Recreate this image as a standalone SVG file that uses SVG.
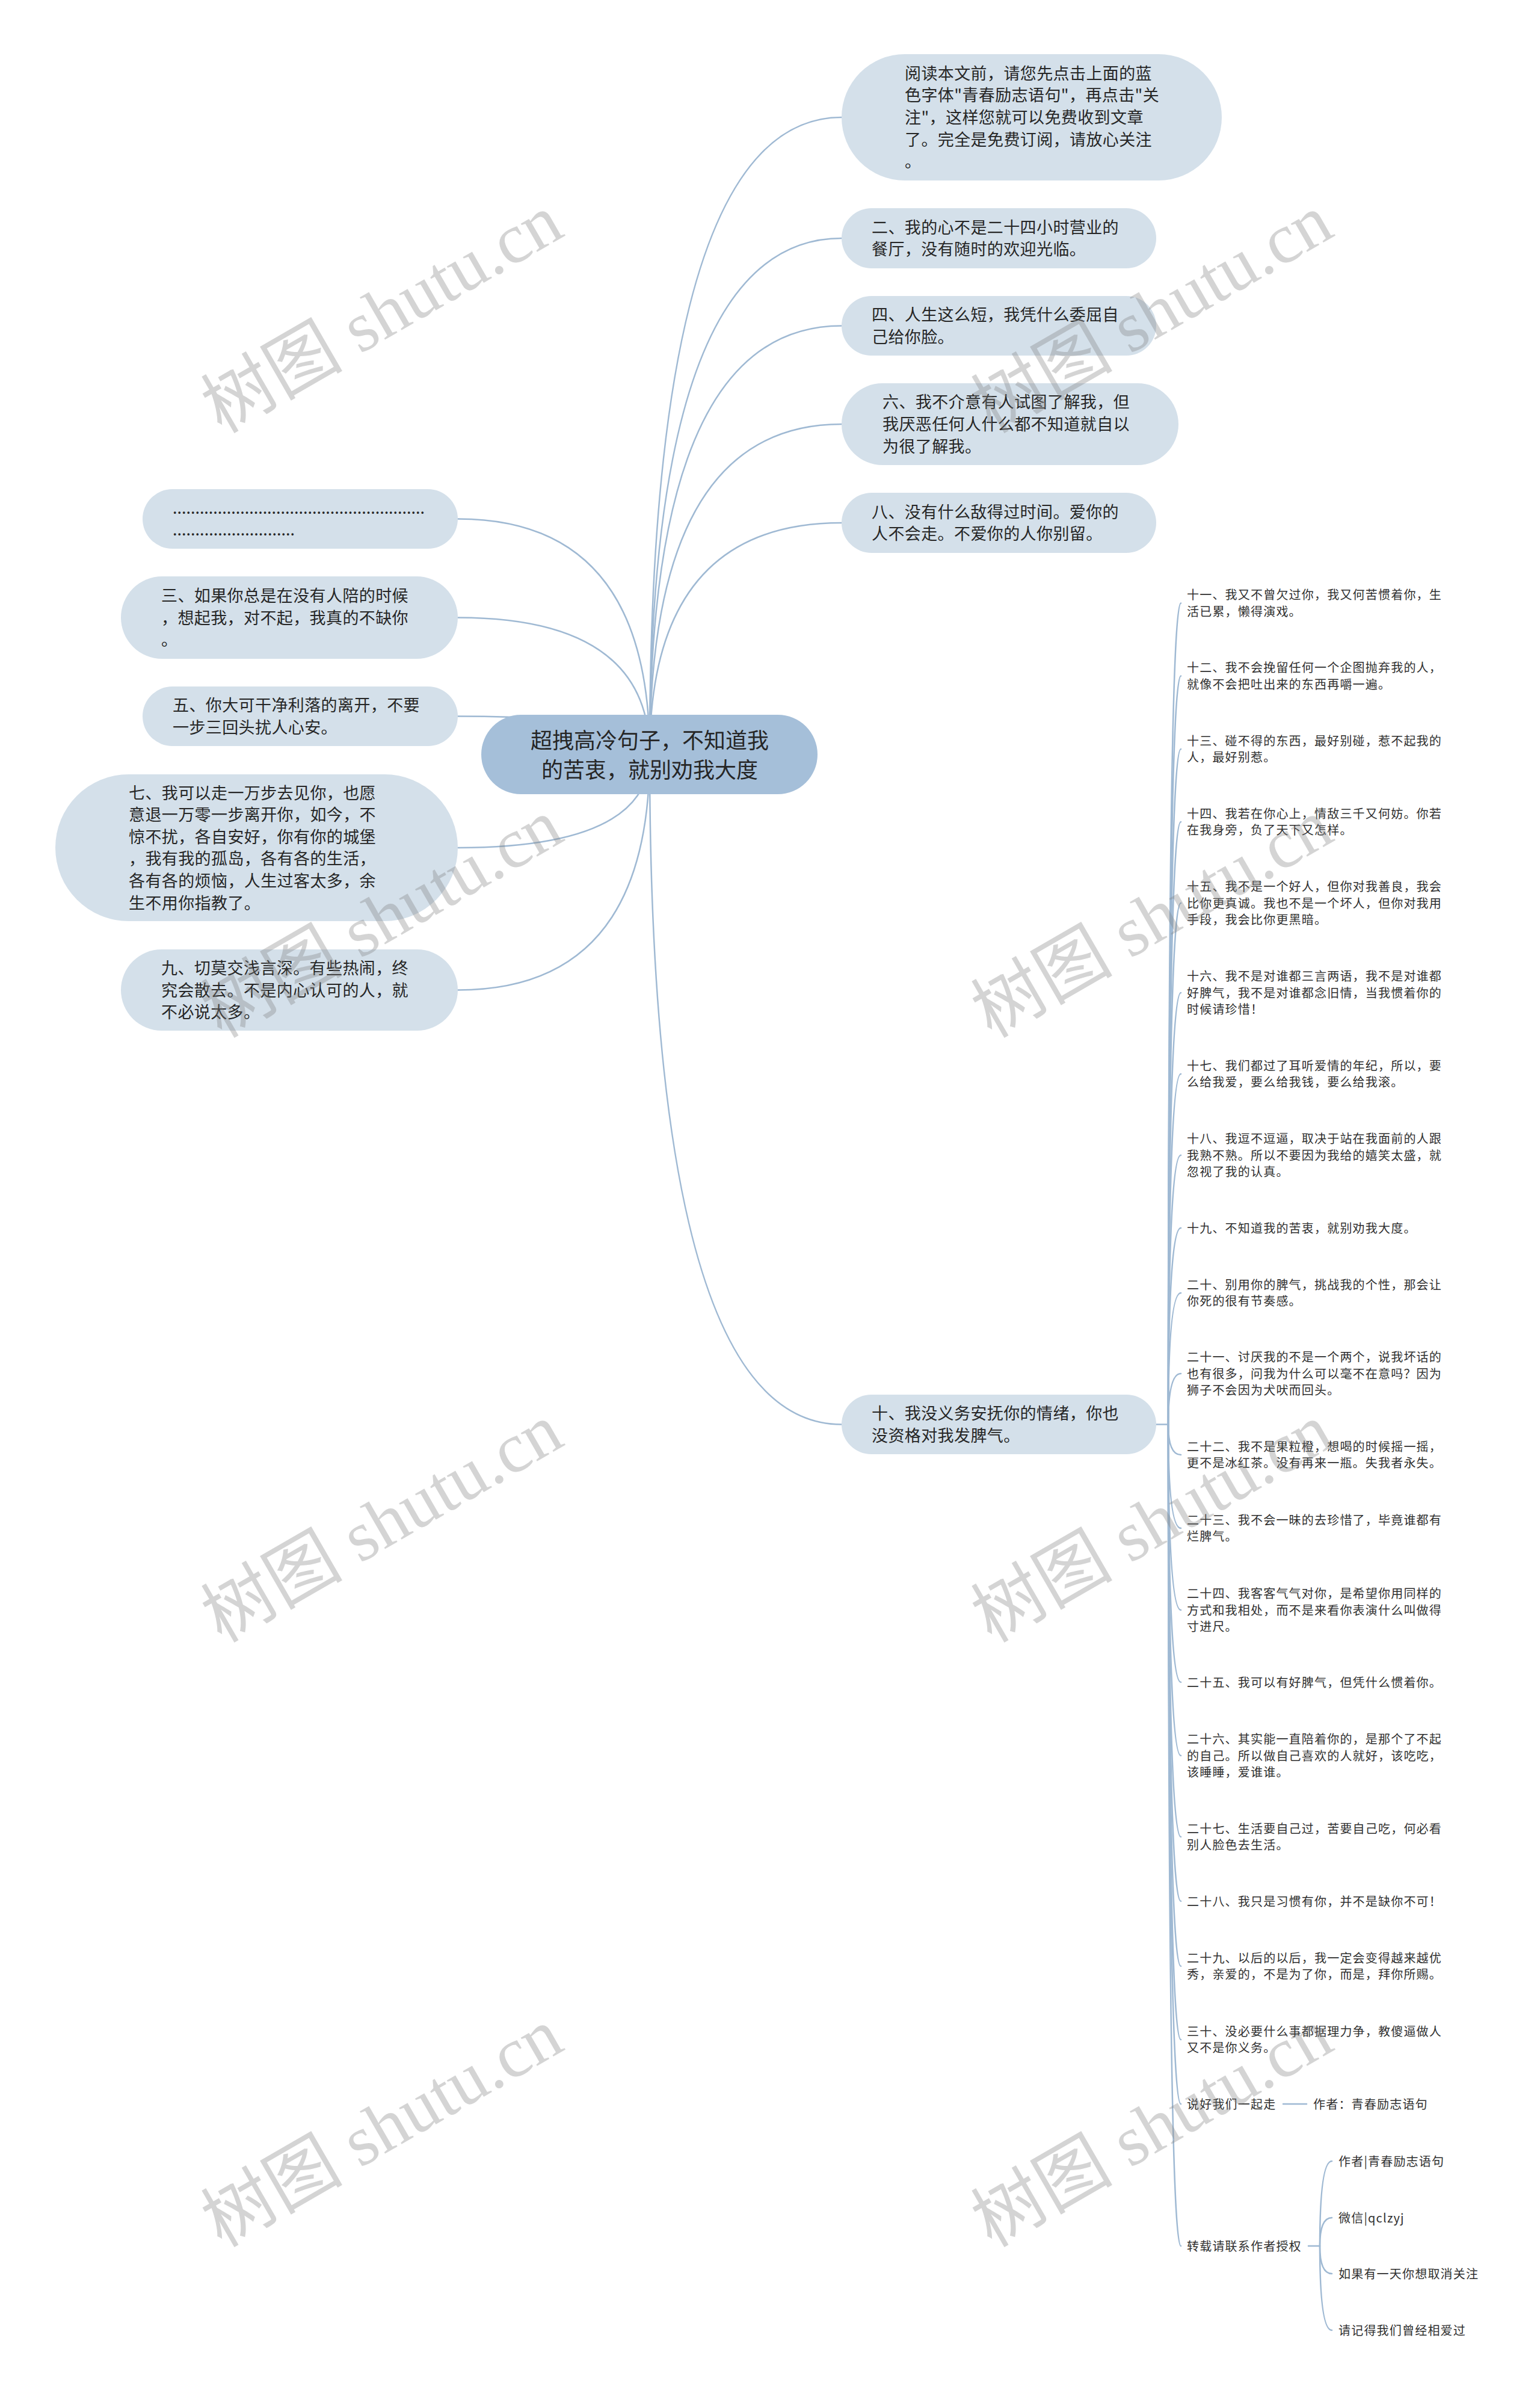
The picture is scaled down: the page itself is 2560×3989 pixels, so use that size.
<svg xmlns="http://www.w3.org/2000/svg" width="2560" height="3989" viewBox="0 0 2560 3989">
<style>
.bg{fill:#ffffff}
.conn path,.conn line{fill:none;stroke:#9fb9d3;stroke-width:2.5;stroke-linecap:round}
.pill{fill:#d4e0ea}
.root{fill:#a5bfd9}
.t{font-family:"Noto Sans CJK SC","Noto Sans",sans-serif;font-size:27px;fill:#262626;letter-spacing:0.4px}
.tr{font-family:"Noto Sans CJK SC","Noto Sans",sans-serif;font-size:36px;fill:#262626;text-anchor:middle}
.s{font-family:"Noto Sans CJK SC","Noto Sans",sans-serif;font-size:20px;fill:#303030;letter-spacing:1.2px}
.wm{font-family:"Liberation Serif","Noto Sans CJK SC",serif;font-size:118px;fill:#808080;fill-opacity:0.34;text-anchor:middle}
</style>
<rect class="bg" x="0" y="0" width="2560" height="3989"/>

<g id="connectors" class="conn">
<path d="M1080 1254 Q1080 195 1399 195"/>
<path d="M1080 1254 Q1080 396 1399 396"/>
<path d="M1080 1254 Q1080 541.5 1399 541.5"/>
<path d="M1080 1254 Q1080 705 1399 705"/>
<path d="M1080 1254 Q1080 869 1399 869"/>
<path d="M1080 1254 Q1080 2367.5 1399 2367.5"/>
<path d="M1080 1254 Q1080 862.5 761 862.5"/>
<path d="M1080 1254 Q1080 1026.5 761 1026.5"/>
<path d="M1080 1254 Q1080 1190.5 761 1190.5"/>
<path d="M1080 1254 Q1080 1409 761 1409"/>
<path d="M1080 1254 Q1080 1645.5 761 1645.5"/>
<line x1="1921" y1="2367.5" x2="1942" y2="2367.5"/>
<path d="M1942 2367.5 Q1942 1002.5 1963 1002.5"/>
<path d="M1942 2367.5 Q1942 1123.5 1963 1123.5"/>
<path d="M1942 2367.5 Q1942 1245 1963 1245"/>
<path d="M1942 2367.5 Q1942 1366 1963 1366"/>
<path d="M1942 2367.5 Q1942 1501 1963 1501"/>
<path d="M1942 2367.5 Q1942 1650 1963 1650"/>
<path d="M1942 2367.5 Q1942 1785 1963 1785"/>
<path d="M1942 2367.5 Q1942 1920 1963 1920"/>
<path d="M1942 2367.5 Q1942 2041 1963 2041"/>
<path d="M1942 2367.5 Q1942 2149 1963 2149"/>
<path d="M1942 2367.5 Q1942 2283 1963 2283"/>
<path d="M1942 2367.5 Q1942 2418 1963 2418"/>
<path d="M1942 2367.5 Q1942 2540 1963 2540"/>
<path d="M1942 2367.5 Q1942 2676 1963 2676"/>
<path d="M1942 2367.5 Q1942 2796 1963 2796"/>
<path d="M1942 2367.5 Q1942 2918 1963 2918"/>
<path d="M1942 2367.5 Q1942 3053 1963 3053"/>
<path d="M1942 2367.5 Q1942 3160 1963 3160"/>
<path d="M1942 2367.5 Q1942 3268 1963 3268"/>
<path d="M1942 2367.5 Q1942 3390 1963 3390"/>
<path d="M1942 2367.5 Q1942 3497 1963 3497"/>
<path d="M1942 2367.5 Q1942 3733 1963 3733"/>
<line x1="2133" y1="3497" x2="2172" y2="3497"/>
<line x1="2175" y1="3733" x2="2194" y2="3733"/>
<path d="M2194 3733 Q2194 3592 2214 3592"/>
<path d="M2194 3733 Q2194 3686 2214 3686"/>
<path d="M2194 3733 Q2194 3779 2214 3779"/>
<path d="M2194 3733 Q2194 3873 2214 3873"/>
</g>

<g id="root">
<rect class="root" x="800" y="1188" width="559" height="132" rx="66"/>
<text class="tr"><tspan x="1080" y="1244">超拽高冷句子，不知道我</tspan><tspan x="1080" y="1293">的苦衷，就别劝我大度</tspan></text>
</g>

<g id="r1">
<rect class="pill" x="1399" y="90" width="632" height="210" rx="105"/>
<text class="t"><tspan x="1504" y="132">阅读本文前，请您先点击上面的蓝</tspan><tspan x="1504" y="168">色字体"青春励志语句"，再点击"关</tspan><tspan x="1504" y="205">注"，这样您就可以免费收到文章</tspan><tspan x="1504" y="242">了。完全是免费订阅，请放心关注</tspan><tspan x="1504" y="278">。</tspan></text>
</g>
<g id="r2">
<rect class="pill" x="1399" y="346" width="523" height="100" rx="50"/>
<text class="t"><tspan x="1449" y="388">二、我的心不是二十四小时营业的</tspan><tspan x="1449" y="424">餐厅，没有随时的欢迎光临。</tspan></text>
</g>
<g id="r3">
<rect class="pill" x="1399" y="492" width="523" height="99" rx="49.5"/>
<text class="t"><tspan x="1449" y="533">四、人生这么短，我凭什么委屈自</tspan><tspan x="1449" y="570">己给你脸。</tspan></text>
</g>
<g id="r4">
<rect class="pill" x="1399" y="637" width="560" height="136" rx="68"/>
<text class="t"><tspan x="1467" y="678">六、我不介意有人试图了解我，但</tspan><tspan x="1467" y="715">我厌恶任何人什么都不知道就自以</tspan><tspan x="1467" y="752">为很了解我。</tspan></text>
</g>
<g id="r5">
<rect class="pill" x="1399" y="819" width="523" height="100" rx="50"/>
<text class="t"><tspan x="1449" y="861">八、没有什么敌得过时间。爱你的</tspan><tspan x="1449" y="897">人不会走。不爱你的人你别留。</tspan></text>
</g>
<g id="r6">
<rect class="pill" x="1399" y="2318" width="523" height="99" rx="49.5"/>
<text class="t"><tspan x="1449" y="2359">十、我没义务安抚你的情绪，你也</tspan><tspan x="1449" y="2396">没资格对我发脾气。</tspan></text>
</g>

<g id="l1">
<rect class="pill" x="237" y="813" width="524" height="99" rx="49.5"/>
<text class="t" style="letter-spacing:0"><tspan x="287" y="854" textLength="419" lengthAdjust="spacing">........................................................</tspan><tspan x="287" y="890" textLength="203" lengthAdjust="spacing">...........................</tspan></text>
</g>
<g id="l2">
<rect class="pill" x="201" y="958" width="560" height="137" rx="68.5"/>
<text class="t"><tspan x="268" y="1000">三、如果你总是在没有人陪的时候</tspan><tspan x="268" y="1037">，想起我，对不起，我真的不缺你</tspan><tspan x="268" y="1073">。</tspan></text>
</g>
<g id="l3">
<rect class="pill" x="237" y="1141" width="524" height="99" rx="49.5"/>
<text class="t"><tspan x="287" y="1182">五、你大可干净利落的离开，不要</tspan><tspan x="287" y="1219">一步三回头扰人心安。</tspan></text>
</g>
<g id="l4">
<rect class="pill" x="92" y="1287" width="669" height="244" rx="122"/>
<text class="t"><tspan x="214" y="1328">七、我可以走一万步去见你，也愿</tspan><tspan x="214" y="1364">意退一万零一步离开你，如今，不</tspan><tspan x="214" y="1401">惊不扰，各自安好，你有你的城堡</tspan><tspan x="214" y="1437">，我有我的孤岛，各有各的生活，</tspan><tspan x="214" y="1474">各有各的烦恼，人生过客太多，余</tspan><tspan x="214" y="1511">生不用你指教了。</tspan></text>
</g>
<g id="l5">
<rect class="pill" x="201" y="1578" width="560" height="135" rx="67.5"/>
<text class="t"><tspan x="268" y="1619">九、切莫交浅言深。有些热闹，终</tspan><tspan x="268" y="1656">究会散去。不是内心认可的人，就</tspan><tspan x="268" y="1692">不必说太多。</tspan></text>
</g>

<g id="items">
<text id="i11" class="s"><tspan x="1973" y="996">十一、我又不曾欠过你，我又何苦惯着你，生</tspan><tspan x="1973" y="1024">活已累，懒得演戏。</tspan></text>
<text id="i12" class="s"><tspan x="1973" y="1117">十二、我不会挽留任何一个企图抛弃我的人，</tspan><tspan x="1973" y="1145">就像不会把吐出来的东西再嚼一遍。</tspan></text>
<text id="i13" class="s"><tspan x="1973" y="1239">十三、碰不得的东西，最好别碰，惹不起我的</tspan><tspan x="1973" y="1266">人，最好别惹。</tspan></text>
<text id="i14" class="s"><tspan x="1973" y="1360">十四、我若在你心上，情敌三千又何妨。你若</tspan><tspan x="1973" y="1387">在我身旁，负了天下又怎样。</tspan></text>
<text id="i15" class="s"><tspan x="1973" y="1481">十五、我不是一个好人，但你对我善良，我会</tspan><tspan x="1973" y="1509">比你更真诚。我也不是一个坏人，但你对我用</tspan><tspan x="1973" y="1536">手段，我会比你更黑暗。</tspan></text>
<text id="i16" class="s"><tspan x="1973" y="1630">十六、我不是对谁都三言两语，我不是对谁都</tspan><tspan x="1973" y="1658">好脾气，我不是对谁都念旧情，当我惯着你的</tspan><tspan x="1973" y="1685">时候请珍惜！</tspan></text>
<text id="i17" class="s"><tspan x="1973" y="1779">十七、我们都过了耳听爱情的年纪，所以，要</tspan><tspan x="1973" y="1806">么给我爱，要么给我钱，要么给我滚。</tspan></text>
<text id="i18" class="s"><tspan x="1973" y="1900">十八、我逗不逗逼，取决于站在我面前的人跟</tspan><tspan x="1973" y="1928">我熟不熟。所以不要因为我给的嬉笑太盛，就</tspan><tspan x="1973" y="1955">忽视了我的认真。</tspan></text>
<text id="i19" class="s"><tspan x="1973" y="2049">十九、不知道我的苦衷，就别劝我大度。</tspan></text>
<text id="i20" class="s"><tspan x="1973" y="2143">二十、别用你的脾气，挑战我的个性，那会让</tspan><tspan x="1973" y="2170">你死的很有节奏感。</tspan></text>
<text id="i21" class="s"><tspan x="1973" y="2263">二十一、讨厌我的不是一个两个，说我坏话的</tspan><tspan x="1973" y="2291">也有很多，问我为什么可以毫不在意吗？因为</tspan><tspan x="1973" y="2318">狮子不会因为犬吠而回头。</tspan></text>
<text id="i22" class="s"><tspan x="1973" y="2412">二十二、我不是果粒橙，想喝的时候摇一摇，</tspan><tspan x="1973" y="2439">更不是冰红茶。没有再来一瓶。失我者永失。</tspan></text>
<text id="i23" class="s"><tspan x="1973" y="2534">二十三、我不会一昧的去珍惜了，毕竟谁都有</tspan><tspan x="1973" y="2561">烂脾气。</tspan></text>
<text id="i24" class="s"><tspan x="1973" y="2656">二十四、我客客气气对你，是希望你用同样的</tspan><tspan x="1973" y="2684">方式和我相处，而不是来看你表演什么叫做得</tspan><tspan x="1973" y="2711">寸进尺。</tspan></text>
<text id="i25" class="s"><tspan x="1973" y="2804">二十五、我可以有好脾气，但凭什么惯着你。</tspan></text>
<text id="i26" class="s"><tspan x="1973" y="2898">二十六、其实能一直陪着你的，是那个了不起</tspan><tspan x="1973" y="2926">的自己。所以做自己喜欢的人就好，该吃吃，</tspan><tspan x="1973" y="2953">该睡睡，爱谁谁。</tspan></text>
<text id="i27" class="s"><tspan x="1973" y="3047">二十七、生活要自己过，苦要自己吃，何必看</tspan><tspan x="1973" y="3074">别人脸色去生活。</tspan></text>
<text id="i28" class="s"><tspan x="1973" y="3168">二十八、我只是习惯有你，并不是缺你不可！</tspan></text>
<text id="i29" class="s"><tspan x="1973" y="3262">二十九、以后的以后，我一定会变得越来越优</tspan><tspan x="1973" y="3289">秀，亲爱的，不是为了你，而是，拜你所赐。</tspan></text>
<text id="i30" class="s"><tspan x="1973" y="3384">三十、没必要什么事都据理力争，教傻逼做人</tspan><tspan x="1973" y="3411">又不是你义务。</tspan></text>
<text id="i31" class="s" x="1973" y="3505">说好我们一起走</text>
<text id="i31a" class="s" x="2183" y="3505">作者：青春励志语句</text>
<text id="i32" class="s" x="1973" y="3741">转载请联系作者授权</text>
<text id="i32a" class="s" x="2225" y="3600">作者|青春励志语句</text>
<text id="i32b" class="s" x="2225" y="3694">微信|qclzyj</text>
<text id="i32c" class="s" x="2225" y="3787">如果有一天你想取消关注</text>
<text id="i32d" class="s" x="2225" y="3881">请记得我们曾经相爱过</text>
</g>

<g id="watermarks">
<text class="wm" x="655" y="556" transform="rotate(-30 655 556)">树图 shutu.cn</text>
<text class="wm" x="1935" y="556" transform="rotate(-30 1935 556)">树图 shutu.cn</text>
<text class="wm" x="655" y="1561" transform="rotate(-30 655 1561)">树图 shutu.cn</text>
<text class="wm" x="1935" y="1561" transform="rotate(-30 1935 1561)">树图 shutu.cn</text>
<text class="wm" x="655" y="2566" transform="rotate(-30 655 2566)">树图 shutu.cn</text>
<text class="wm" x="1935" y="2566" transform="rotate(-30 1935 2566)">树图 shutu.cn</text>
<text class="wm" x="655" y="3571" transform="rotate(-30 655 3571)">树图 shutu.cn</text>
<text class="wm" x="1935" y="3571" transform="rotate(-30 1935 3571)">树图 shutu.cn</text>
</g>
</svg>
